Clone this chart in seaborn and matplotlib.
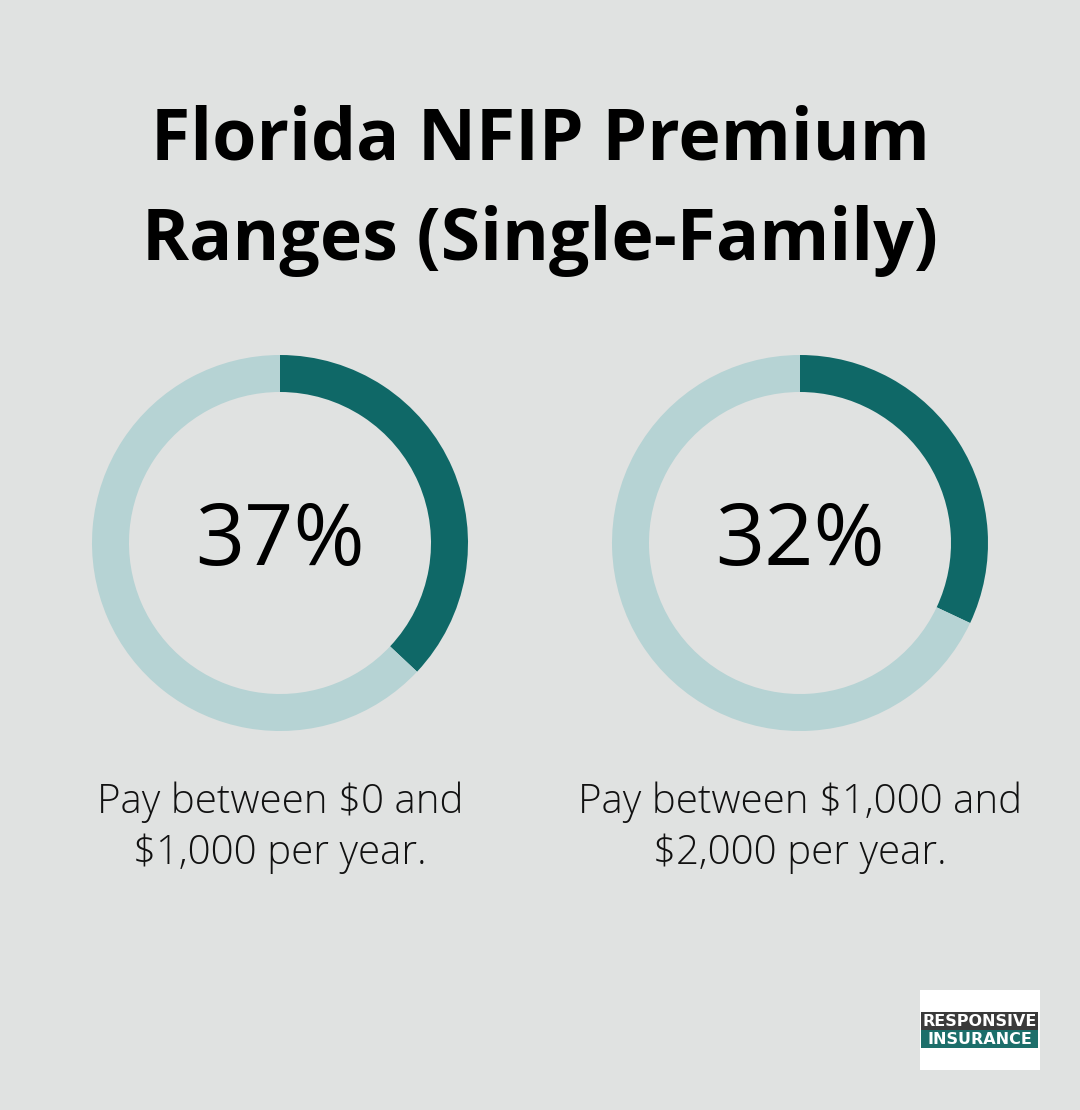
import matplotlib
matplotlib.use("Agg")
import matplotlib.pyplot as plt
from matplotlib.patches import Rectangle
import seaborn as sns

# data
title_lines = ["Florida NFIP Premium", "Ranges (Single-Family)"]
shares = [37, 32]
captions = [
    "Pay between $0 and\n$1,000 per year.",
    "Pay between $1,000 and\n$2,000 per year.",
]

BG = "#E0E2E1"
DARK = "#0F6867"
LIGHT = "#B6D3D4"

sns.set_theme(style="white")
plt.rcParams["font.family"] = ["Open Sans", "DejaVu Sans"]

W, H = 1080, 1110
fig = plt.figure(figsize=(W / 100, H / 100), dpi=100, facecolor=BG)
ax = fig.add_axes([0, 0, 1, 1])
ax.set_facecolor(BG)

centers_x = [280, 800]
cy = H - 543
r_out, ring = 188, 37

for cx, val, cap in zip(centers_x, shares, captions):
    ax.pie([val, 100 - val], colors=[DARK, LIGHT], startangle=90, counterclock=False,
           radius=r_out, center=(cx, cy), wedgeprops=dict(width=ring, linewidth=0))
    ax.text(cx, cy, f"{val}%", ha="center", va="center", fontsize=62, color="black")
    ax.text(cx, H - 828, cap, ha="center", va="center", fontsize=29, color="#111111",
            fontweight="light", linespacing=1.33)

for i, line in enumerate(title_lines):
    ax.text(W / 2, H - (141 + i * 100), line, ha="center", va="center", fontsize=51.5,
            fontweight="bold", color="black")

# logo
ax.add_patch(Rectangle((920, H - 1070), 120, 80, color="white", lw=0))
ax.add_patch(Rectangle((921, H - 1030), 117, 18, color="#3a3a3a", lw=0))
ax.add_patch(Rectangle((921, H - 1048), 117, 18, color="#1c6e6a", lw=0))
ax.text(980, H - 1021, "RESPONSIVE", ha="center", va="center", fontsize=11.5, color="white",
        fontweight="bold", family=["DejaVu Sans"])
ax.text(980, H - 1039, "INSURANCE", ha="center", va="center", fontsize=11.5, color="white",
        fontweight="bold", family=["DejaVu Sans"])

ax.set_xlim(0, W)
ax.set_ylim(0, H)
ax.set_aspect("auto")
ax.axis("off")

fig.savefig("out.png", dpi=100, facecolor=BG)
